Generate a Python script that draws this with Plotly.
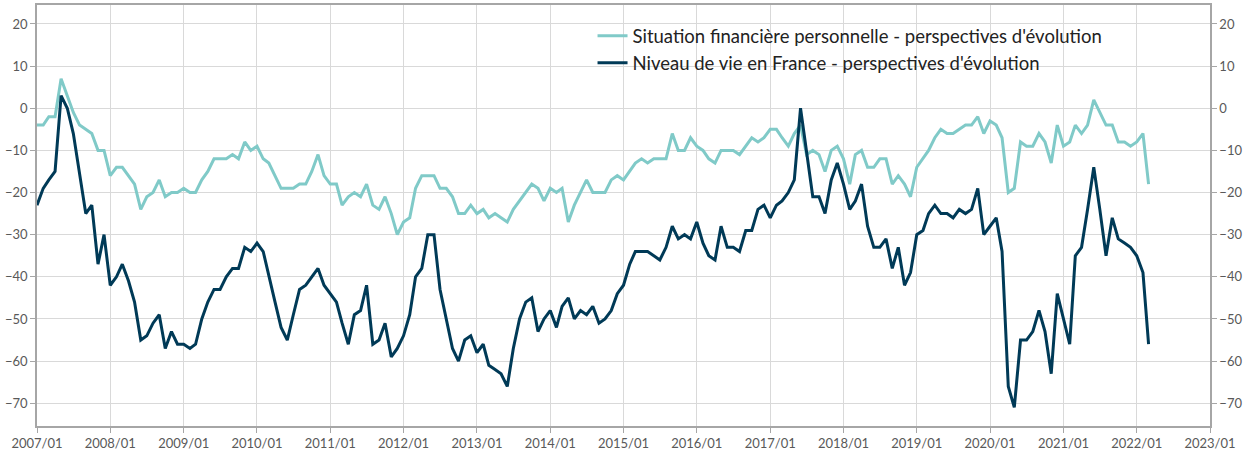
import pandas as pd
import plotly.graph_objects as go

# Monthly series, 2007/01 .. 2022/03
start_month = "2007-01-01"

situation_financiere = [
    -4, -4, -2, -2, 7, 3, -1, -4, -5, -6, -10, -10,          # 2007
    -16, -14, -14, -16, -18, -24, -21, -20, -17, -21, -20, -20,  # 2008
    -19, -20, -20, -17, -15, -12, -12, -12, -11, -12, -8, -10,   # 2009
    -9, -12, -13, -16, -19, -19, -19, -18, -18, -15, -11, -16,   # 2010
    -18, -18, -23, -21, -20, -21, -18, -23, -24, -21, -25, -30,  # 2011
    -27, -26, -19, -16, -16, -16, -19, -19, -21, -25, -25, -23,  # 2012
    -25, -24, -26, -25, -26, -27, -24, -22, -20, -18, -19, -22,  # 2013
    -19, -20, -19, -27, -23, -20, -17, -20, -20, -20, -17, -16,  # 2014
    -17, -15, -13, -12, -13, -12, -12, -12, -6, -10, -10, -7,    # 2015
    -9, -10, -12, -13, -10, -10, -10, -11, -9, -7, -8, -7,       # 2016
    -5, -5, -7, -9, -6, -4, -11, -10, -11, -15, -10, -9,         # 2017
    -12, -18, -11, -10, -14, -14, -12, -12, -18, -16, -18, -21,  # 2018
    -14, -12, -10, -7, -5, -6, -6, -5, -4, -4, -2, -6,           # 2019
    -3, -4, -7, -20, -19, -8, -9, -9, -6, -8, -13, -4,           # 2020
    -9, -8, -4, -6, -4, 2, -1, -4, -4, -8, -8, -9,               # 2021
    -8, -6, -18,                                                 # 2022
]

niveau_de_vie = [
    -23, -19, -17, -15, 3, 0, -6, -16, -25, -23, -37, -30,       # 2007
    -42, -40, -37, -41, -46, -55, -54, -51, -49, -57, -53, -56,  # 2008
    -56, -57, -56, -50, -46, -43, -43, -40, -38, -38, -33, -34,  # 2009
    -32, -34, -40, -46, -52, -55, -49, -43, -42, -40, -38, -42,  # 2010
    -44, -46, -51, -56, -49, -48, -42, -56, -55, -51, -59, -57,  # 2011
    -54, -49, -40, -38, -30, -30, -43, -50, -57, -60, -55, -54,  # 2012
    -58, -56, -61, -62, -63, -66, -57, -50, -46, -45, -53, -50,  # 2013
    -48, -52, -47, -45, -50, -48, -49, -47, -51, -50, -48, -44,  # 2014
    -42, -37, -34, -34, -34, -35, -36, -33, -28, -31, -30, -31,  # 2015
    -27, -32, -35, -36, -28, -33, -33, -34, -29, -29, -24, -23,  # 2016
    -26, -23, -22, -20, -17, 0, -11, -21, -21, -25, -17, -13,    # 2017
    -18, -24, -22, -18, -28, -33, -33, -31, -38, -33, -42, -39,  # 2018
    -30, -29, -25, -23, -25, -25, -26, -24, -25, -24, -19, -30,  # 2019
    -28, -26, -34, -66, -71, -55, -55, -53, -48, -53, -63, -44,  # 2020
    -50, -56, -35, -33, -24, -14, -24, -35, -26, -31, -32, -33,  # 2021
    -35, -39, -56,                                               # 2022
]

series_names = [
    "Situation financière personnelle - perspectives d'évolution",
    "Niveau de vie en France - perspectives d'évolution",
]
y_ticks = [20, 10, 0, -10, -20, -30, -40, -50, -60, -70]

dates = pd.date_range(start_month, periods=len(niveau_de_vie), freq="MS")

LIGHT = "#80CAC8"
DARK = "#003A57"
GRID = "#D9D9D9"
AXIS = "#A6A6A6"
FAMILY = "Lato, 'Noto Sans', sans-serif"
TICKFONT = dict(family=FAMILY, size=13, color="#595959")

fig = go.Figure()
fig.add_trace(go.Scatter(x=dates, y=situation_financiere, mode="lines",
                         name=series_names[0], line=dict(color=LIGHT, width=3)))
fig.add_trace(go.Scatter(x=dates, y=niveau_de_vie, mode="lines",
                         name=series_names[1], line=dict(color=DARK, width=3)))
# invisible copy to carry the right-hand axis
fig.add_trace(go.Scatter(x=dates, y=niveau_de_vie, mode="lines", yaxis="y2",
                         showlegend=False, hoverinfo="skip",
                         line=dict(color="rgba(0,0,0,0)", width=0)))

yr = [-75.4, 24.5]
fig.update_layout(
    width=1245, height=454,
    margin=dict(l=37, r=34, t=3, b=19),
    paper_bgcolor="white", plot_bgcolor="white",
    font=dict(family=FAMILY, color="#222222"),
    showlegend=True,
    legend=dict(x=0.4736, y=0.971, xanchor="left", yanchor="top",
                bgcolor="rgba(0,0,0,0)", tracegroupgap=0,
                font=dict(family=FAMILY, size=18.5, color="#222222"),
                itemwidth=30),
    xaxis=dict(type="date", range=["2007-01-01", "2023-01-01"],
               dtick="M12", tick0="2007-01-01", tickformat="%Y/%m",
               showgrid=True, gridcolor=GRID, gridwidth=1,
               showline=True, linecolor=AXIS, linewidth=1.5, mirror=True,
               ticks="outside", ticklen=5, tickcolor=AXIS,
               tickfont=TICKFONT, zeroline=False),
    yaxis=dict(range=yr, tickvals=y_ticks, showgrid=True, gridcolor=GRID,
               gridwidth=1, zeroline=False, showline=True, linecolor=AXIS,
               linewidth=1.5, mirror=True, ticks="outside", ticklen=5,
               tickcolor=AXIS, tickfont=TICKFONT),
    yaxis2=dict(range=yr, tickvals=y_ticks, overlaying="y", side="right",
                showgrid=False, zeroline=False, showline=True, linecolor=AXIS,
                linewidth=1.5, ticks="outside", ticklen=5, tickcolor=AXIS,
                tickfont=TICKFONT),
)

fig.write_html("out.html",
               config={"displayModeBar": False},
               post_script="document.body.style.margin='0';document.body.style.overflow='hidden';")
